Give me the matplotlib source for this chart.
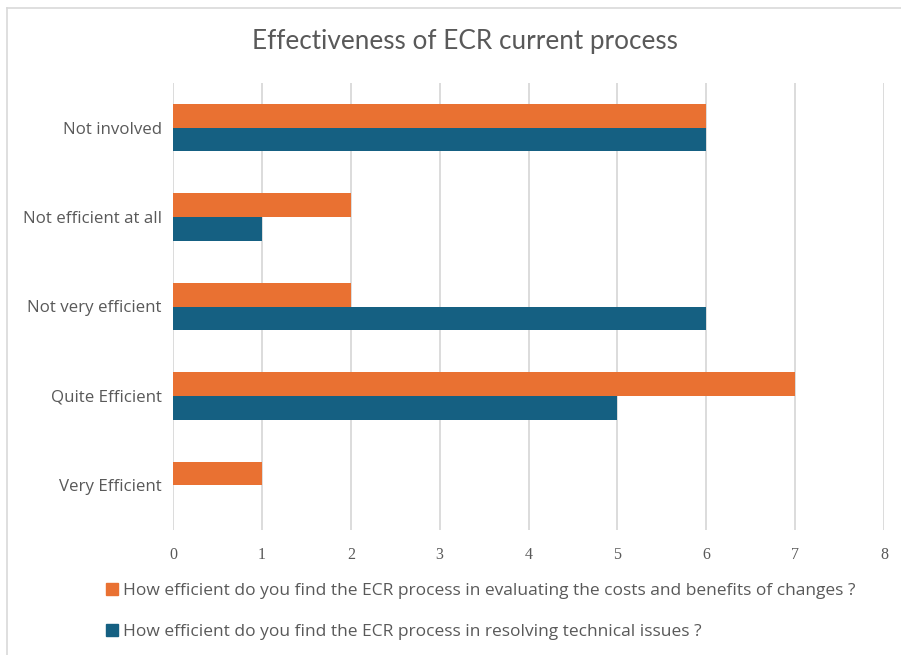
import matplotlib.pyplot as plt
from matplotlib.patches import Patch
from matplotlib.lines import Line2D
import numpy as np

# Survey answers, bottom to top
categories = ["Very Efficient", "Quite Efficient", "Not very efficient",
              "Not efficient at all", "Not involved"]
costs_benefits = [1, 7, 2, 2, 6]
technical_issues = [0, 5, 6, 1, 6]
xticks = [0, 1, 2, 3, 4, 5, 6, 7, 8]

label_costs = "How efficient do you find the ECR process in evaluating the costs and benefits of changes ?"
label_tech = "How efficient do you find the ECR process in resolving technical issues ?"

orange = "#E97132"
blue = "#156082"
grey_text = "#595959"
grid_col = "#D9D9D9"

W, H = 901, 655
fig = plt.figure(figsize=(W / 100, H / 100), dpi=100)
ax = fig.add_axes([173 / W, 1 - 530 / H, (884 - 173) / W, (530 - 83) / H])

y = np.arange(len(categories))
bh = 0.265
ax.barh(y + bh / 2, costs_benefits, height=bh, color=orange, zorder=3)
ax.barh(y - bh / 2, technical_issues, height=bh, color=blue, zorder=3)

ax.set_xlim(0, 8)
ax.set_ylim(-0.5, len(categories) - 0.5)
ax.set_xticks(xticks)
ax.set_xticklabels([str(t) for t in xticks], family="Liberation Serif",
                   fontsize=11.5, color=grey_text)
ax.set_yticks(y)
ax.set_yticklabels(categories, family="Open Sans", fontsize=12.2, color=grey_text)
ax.tick_params(length=0)
ax.tick_params(axis="x", pad=12)
ax.tick_params(axis="y", pad=8)
ax.grid(axis="x", color=grid_col, linewidth=1.3, zorder=0)
for s in ax.spines.values():
    s.set_visible(False)

fig.text(465 / W, 1 - 42 / H, "Effectiveness of ECR current process",
         ha="center", va="center", family="Lato", fontsize=18.8, color=grey_text)

handles = [Patch(color=orange, label=label_costs), Patch(color=blue, label=label_tech)]
fig.legend(handles=handles, loc="upper left", bbox_to_anchor=(106 / W, 1 - 583 / H),
           frameon=False, prop={"family": "Open Sans", "size": 12.5},
           labelcolor=grey_text, handlelength=0.7, handleheight=0.7,
           handletextpad=0.3, labelspacing=1.42, borderpad=0, borderaxespad=0)

# chart frame (top and left edges)
fig.add_artist(Line2D([7 / W, 1], [1 - 8 / H, 1 - 8 / H], color=grid_col, lw=1.2))
fig.add_artist(Line2D([7 / W, 7 / W], [0, 1 - 8 / H], color=grid_col, lw=1.2))

fig.savefig("out.png", dpi=100)
